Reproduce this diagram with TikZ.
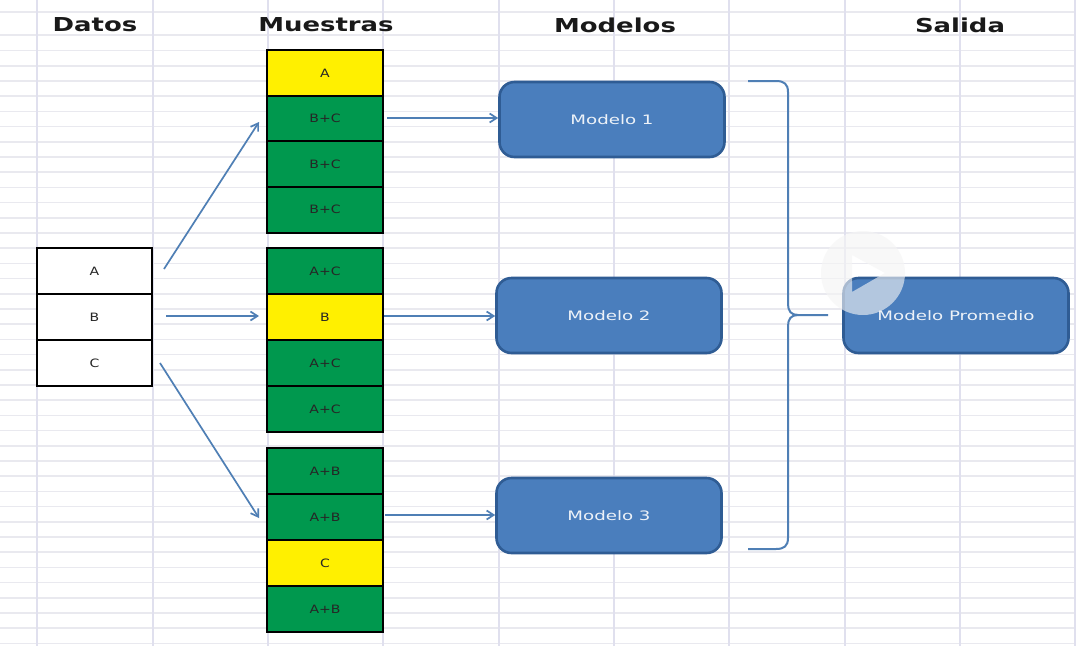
\documentclass[tikz,border=0pt]{standalone}
\usepackage{fontspec}
\setmainfont{DejaVu Sans}
\newfontfamily\widefont[FakeStretch=1.22]{DejaVu Sans}
\newfontfamily\modelfont[FakeStretch=1.4]{DejaVu Sans}
\newfontfamily\headfont[FakeStretch=1.35]{DejaVu Sans Bold}
\usetikzlibrary{arrows.meta}
\definecolor{gridh}{HTML}{E9E9EF}
\definecolor{gridv}{HTML}{E0E0EE}
\definecolor{cellgreen}{HTML}{00984E}
\definecolor{cellyellow}{HTML}{FFF000}
\definecolor{modelfill}{HTML}{4A7EBD}
\definecolor{modeldraw}{HTML}{2F5C94}
\definecolor{linkblue}{HTML}{4F7FB5}
\tikzset{
  x=1pt,y=-1pt,
  head/.style={font=\headfont\fontsize{19.2}{21}\selectfont,text=black!90,inner sep=0pt},
  cellbase/.style={draw=black,line width=2pt,minimum width=115.5pt,minimum height=46pt,inner sep=0pt,
     text=black!85,font=\widefont\fontsize{11.5}{13}\selectfont},
  plain/.style={cellbase,fill=white},
  grn/.style={cellbase,fill=cellgreen},
  yel/.style={cellbase,fill=cellyellow},
  model/.style={draw=modeldraw,line width=2.6pt,fill=modelfill,rounded corners=15pt,minimum width=225pt,minimum height=75pt,
     inner sep=0pt,text=white!90!modelfill,font=\modelfont\fontsize{13}{15}\selectfont},
  link/.style={draw=linkblue,line width=1.7pt,-{Straight Barb[length=7pt,width=9pt]}},
  brace/.style={draw=linkblue,line width=2pt},
}
\begin{document}
\begin{tikzpicture}
\useasboundingbox (0,0) rectangle (1076,646);
\fill[white] (0,0) rectangle (1076,646);
% spreadsheet grid
\foreach \yy in {12,35,50.5,65.7,80.9,96.1,111.3,126.5,141.7,156.9,172.1,187.3,202.5,217.7,232.9,248.1,263.3,278.5,293.7,308.9,324.1,339.3,354.5,369.7,384.9,400.1,415.3,430.5,445.7,460.9,476.1,491.3,506.5,521.7,536.9,552.1,567.3,582.5,597.7,612.9,628.1,643.3}
  \draw[gridh,line width=1.6pt] (0,\yy) -- (1076,\yy);
\foreach \xx in {37,153,268,383,499,614,729,845,960,1075}
  \draw[gridv,line width=1.6pt] (\xx,0) -- (\xx,646);
% headers
\node[head] (hd) at (95,25) {Datos};
\node[head] (hm) at (326,25) {Muestras};
\node[head] (hl) at (615,25) {Modelos};
\node[head] (hs) at (960,25) {Salida};
% data
\node[plain] (da) at (94.5,271) {A};
\node[plain] (db) at (94.5,317) {B};
\node[plain] (dc) at (94.5,363) {C};
% samples
\node[yel] (s11) at (325,73) {A};
\node[grn] (s12) at (325,118.5) {B+C};
\node[grn] (s13) at (325,164) {B+C};
\node[grn] (s14) at (325,209.5) {B+C};
\node[grn] (s21) at (325,271) {A+C};
\node[yel] (s22) at (325,317) {B};
\node[grn] (s23) at (325,363) {A+C};
\node[grn] (s24) at (325,409) {A+C};
\node[grn] (s31) at (325,471) {A+B};
\node[grn] (s32) at (325,517) {A+B};
\node[yel] (s33) at (325,563) {C};
\node[grn] (s34) at (325,609) {A+B};
% models
\node[model] (m1) at (612,119.5) {Modelo 1};
\node[model] (m2) at (609,315.5) {Modelo 2};
\node[model] (m3) at (609,515.5) {Modelo 3};
\node[model] (mp) at (956,315.5) {Modelo Promedio};
% free ends of the connectors
\coordinate (a1s) at (164,269); \coordinate (a1e) at (259,122);
\coordinate (a2s) at (166,316); \coordinate (a2e) at (259,316);
\coordinate (a3s) at (160,363); \coordinate (a3e) at (259,518);
\coordinate (b1s) at (387,118);
\coordinate (b2s) at (384,316);
\coordinate (b3s) at (385,515);
\draw[link] (a1s) -- (a1e);
\draw[link] (a2s) -- (a2e);
\draw[link] (a3s) -- (a3e);
\draw[link] (b1s) -- (m1.west |- b1s);
\draw[link] (b2s) -- (m2.west |- b2s);
\draw[link] (b3s) -- (m3.west |- b3s);
% bracket
\coordinate (bt) at (748,81); \coordinate (bb) at (748,549); \coordinate (bm) at (828,315);
\draw[brace] (bt) -- (776,81) .. controls (784,81) and (788,84) .. (788,92)
  -- (788,304) .. controls (788,311) and (791,315) .. (798,315) -- (bm);
\draw[brace] (798,315) .. controls (791,315) and (788,319) .. (788,326)
  -- (788,538) .. controls (788,546) and (784,549) .. (776,549) -- (bb);
% play overlay
\fill[white!96!black,opacity=0.62,even odd rule] (863,273) circle[radius=42]
  (852,255) -- (852,292) -- (885,273) -- cycle;
\end{tikzpicture}
\end{document}
